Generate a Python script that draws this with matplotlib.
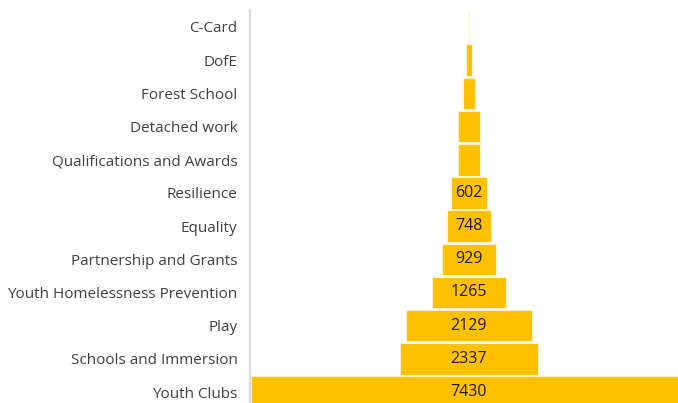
import numpy as np
import matplotlib.pyplot as plt

categories = ["C-Card", "DofE", "Forest School", "Detached work",
              "Qualifications and Awards", "Resilience", "Equality",
              "Partnership and Grants", "Youth Homelessness Prevention",
              "Play", "Schools and Immersion", "Youth Clubs"]
values = [15, 107, 221, 369, 391, 602, 748, 929, 1265, 2129, 2337, 7430]

plt.rcParams['font.family'] = ['Open Sans', 'DejaVu Sans']

fig = plt.figure(figsize=(6.78, 4.03), dpi=100)
ax = fig.add_axes([250 / 678, 0, 428 / 678, (403 - 10.4) / 403])

y = np.arange(len(categories))
vals = np.array(values)
ax.barh(y, vals, left=-vals / 2, height=0.95, color='#FFC000',
        edgecolor='#FFF2CC', linewidth=0.8)

for yi, v in zip(y, values):
    if v >= 500:
        ax.text(0, yi, str(v), ha='center', va='center', fontsize=11.5,
                color='#1a1a1a')

ax.set_xlim(-3727, 3557)
ax.set_ylim(11.33, -0.5)
ax.set_yticks(y)
ax.set_yticklabels(categories, fontsize=11, color='#404040')
ax.tick_params(axis='y', length=0, pad=9)
ax.set_xticks([])
for s in ['top', 'right', 'bottom']:
    ax.spines[s].set_visible(False)
ax.spines['left'].set_color('#D9D9D9')
ax.spines['left'].set_linewidth(1.5)

fig.savefig('out.png', dpi=100)
